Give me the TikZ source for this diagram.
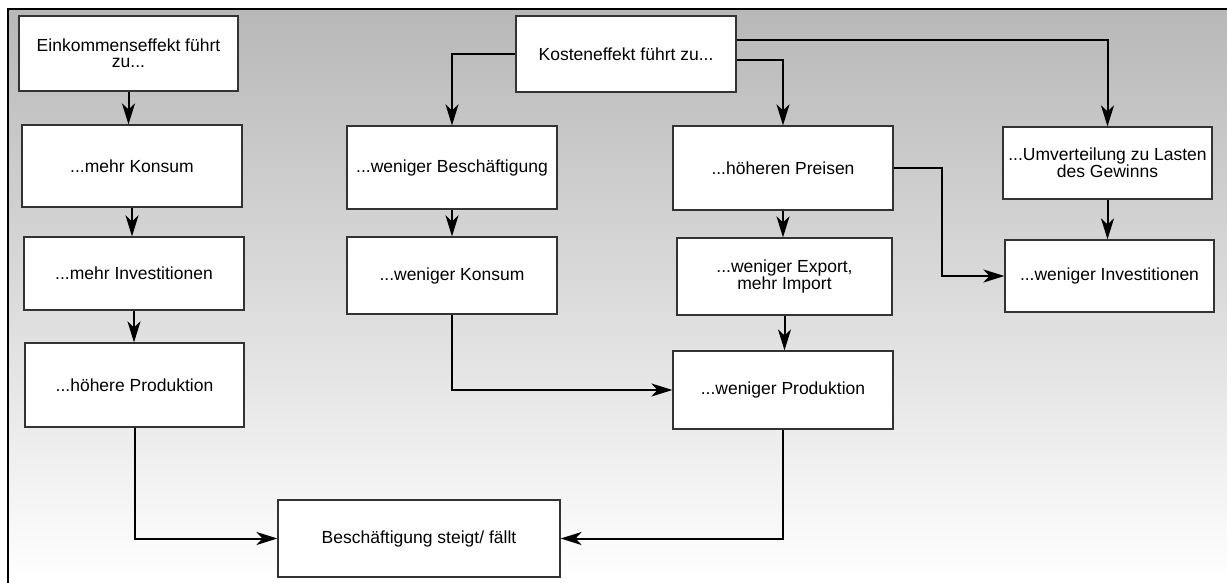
\documentclass[tikz,border=0pt]{standalone}
\usepackage{fontspec}
\setmainfont{Liberation Sans}
\usetikzlibrary{arrows.meta}

\begin{document}
\begin{tikzpicture}[x=1pt,y=-1pt,
    box/.style={draw=black!80, line width=1.2pt, fill=white, inner sep=0pt,
      align=center, font=\fontsize{17.5}{16}\selectfont},
    link/.style={line width=2pt, -{Stealth[length=21pt,width=13pt,inset=6pt]}}]
  \useasboundingbox (0,0) rectangle (1227,583);
  \shade[top color=black!28, bottom color=white] (8,9) rectangle (1227,583);
  \draw[line width=1.2pt] (8,583) -- (8,9) -- (1227,9);

  \node[box, minimum width=219, minimum height=75](eink)   at (128.5, 53.5) {Einkommenseffekt führt\\zu...};
  \node[box, minimum width=220, minimum height=82](mkons)  at (132, 166)    {...mehr Konsum};
  \node[box, minimum width=220, minimum height=73](minv)   at (134, 273.5)  {...mehr Investitionen};
  \node[box, minimum width=219, minimum height=84](hprod)  at (134.5, 385)  {...höhere Produktion};
  \node[box, minimum width=282, minimum height=77](besch)  at (419, 538.5)  {Beschäftigung steigt/ fällt};

  \node[box, minimum width=220, minimum height=76](kost)   at (626, 54)     {Kosteneffekt führt zu...};
  \node[box, minimum width=210, minimum height=83](wbesch) at (452, 167.5)  {...weniger Beschäftigung};
  \node[box, minimum width=210, minimum height=77](wkons)  at (452, 275.5)  {...weniger Konsum};
  \node[box, minimum width=220, minimum height=84](preis)  at (783, 168)    {...höheren Preisen};
  \node[box, minimum width=215, minimum height=77](export) at (784.5, 276.5){...weniger Export,\\mehr Import};
  \node[box, minimum width=220, minimum height=78](wprod)  at (783, 390)    {...weniger Produktion};
  \node[box, minimum width=209, minimum height=72](umvert) at (1107.5, 163) {...Umverteilung zu Lasten\\des Gewinns};
  \node[box, minimum width=209, minimum height=72](winv)   at (1109.5, 276) {...weniger Investitionen};

  \draw[link] (eink.south) -- (eink.south |- mkons.north);
  \draw[link] (mkons.south) -- (mkons.south |- minv.north);
  \draw[link] (minv.south) -- (minv.south |- hprod.north);
  \draw[link] (hprod.south) |- (besch.west);

  \draw[link] (kost.west) -| (wbesch.north);
  \draw[link] ([yshift=14pt]kost.east) -| (umvert.north);
  \draw[link] ([yshift=-6pt]kost.east) -| (preis.north);
  \draw[link] (wbesch.south) -- (wbesch.south |- wkons.north);
  \draw[link] (wkons.south) |- (wprod.west);
  \draw[link] (preis.south) -- (preis.south |- export.north);
  \draw[link] (export.south) -- (export.south |- wprod.north);
  \draw[link] (preis.east) -- ++(48,0) |- (winv.west);
  \draw[link] (umvert.south) -- (umvert.south |- winv.north);
  \draw[link] (wprod.south) |- (besch.east);
\end{tikzpicture}
\end{document}
